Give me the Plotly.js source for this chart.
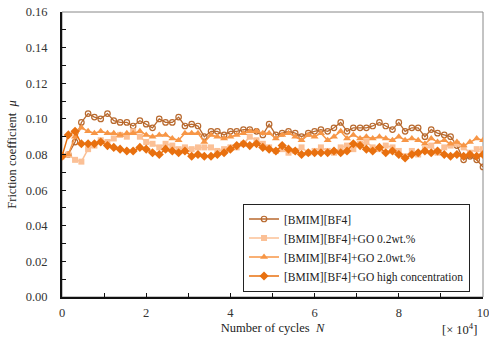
<!DOCTYPE html>
<html><head><meta charset="utf-8">
<script src="https://cdn.plot.ly/plotly-3.0.1.min.js"></script>
<style>html,body{margin:0;padding:0;background:#fff;}#chart{width:489px;height:345px;}</style>
</head><body><div id="chart"></div>
<script>
const cycles = [0,0.15,0.31,0.46,0.62,0.77,0.92,1.08,1.23,1.38,1.54,1.69,1.85,2.00,2.15,2.31,2.46,2.62,2.77,2.92,3.08,3.23,3.38,3.54,3.69,3.85,4.00,4.15,4.31,4.46,4.62,4.77,4.92,5.08,5.23,5.38,5.54,5.69,5.85,6.00,6.15,6.31,6.46,6.62,6.77,6.92,7.08,7.23,7.38,7.54,7.69,7.85,8.00,8.15,8.31,8.46,8.62,8.77,8.92,9.08,9.23,9.38,9.54,9.69,9.85,10.00];
const seriesNames = ["[BMIM][BF4]","[BMIM][BF4]+GO 0.2wt.%","[BMIM][BF4]+GO 2.0wt.%","[BMIM][BF4]+GO high concentration"];
const muBase = [0.079,0.080,0.087,0.098,0.103,0.101,0.100,0.103,0.099,0.098,0.098,0.096,0.099,0.097,0.095,0.100,0.098,0.098,0.101,0.096,0.097,0.096,0.090,0.093,0.093,0.091,0.093,0.093,0.094,0.094,0.093,0.091,0.097,0.091,0.092,0.093,0.092,0.090,0.092,0.093,0.094,0.093,0.095,0.098,0.093,0.095,0.095,0.095,0.096,0.098,0.096,0.094,0.098,0.093,0.095,0.095,0.090,0.094,0.092,0.091,0.090,0.085,0.077,0.079,0.077,0.073];
const muGO02 = [0.079,0.080,0.077,0.076,0.083,0.085,0.088,0.087,0.089,0.091,0.090,0.093,0.090,0.087,0.086,0.084,0.086,0.085,0.083,0.084,0.083,0.084,0.084,0.084,0.082,0.083,0.084,0.084,0.086,0.090,0.088,0.086,0.084,0.082,0.083,0.081,0.082,0.084,0.081,0.082,0.084,0.082,0.081,0.084,0.085,0.083,0.086,0.087,0.084,0.083,0.085,0.084,0.082,0.079,0.082,0.080,0.083,0.085,0.081,0.084,0.085,0.086,0.084,0.081,0.083,0.083];
const muGO20 = [0.079,0.080,0.090,0.095,0.093,0.092,0.093,0.092,0.092,0.091,0.092,0.092,0.093,0.091,0.090,0.091,0.091,0.089,0.088,0.092,0.092,0.092,0.087,0.091,0.090,0.089,0.090,0.091,0.092,0.093,0.093,0.092,0.092,0.089,0.091,0.092,0.090,0.088,0.091,0.090,0.092,0.088,0.090,0.093,0.089,0.091,0.089,0.090,0.089,0.090,0.089,0.088,0.090,0.088,0.089,0.088,0.086,0.089,0.087,0.088,0.086,0.087,0.085,0.087,0.089,0.088];
const muGOhigh = [0.079,0.091,0.093,0.086,0.086,0.086,0.087,0.085,0.084,0.083,0.082,0.082,0.084,0.083,0.081,0.080,0.083,0.082,0.081,0.082,0.079,0.080,0.079,0.079,0.080,0.081,0.083,0.085,0.086,0.085,0.086,0.084,0.083,0.082,0.085,0.083,0.082,0.080,0.081,0.081,0.081,0.081,0.082,0.081,0.082,0.086,0.085,0.083,0.082,0.084,0.081,0.082,0.080,0.078,0.080,0.081,0.082,0.081,0.082,0.080,0.079,0.080,0.079,0.080,0.079,0.080];
const xTicks = [0,2,4,6,8,10];
const yTicks = [0,0.02,0.04,0.06,0.08,0.10,0.12,0.14,0.16];

const font = "Liberation Serif, Times New Roman, serif";
const traces = [
  {x: cycles, y: muGO02, name: seriesNames[1], mode: "lines+markers",
   line: {color: "#fbc096", width: 1.5}, marker: {symbol: "square", size: 6, color: "#fbc096"}},
  {x: cycles, y: muGO20, name: seriesNames[2], mode: "lines+markers",
   line: {color: "#f79646", width: 1.5}, marker: {symbol: "triangle-up", size: 7, color: "#f79646"}},
  {x: cycles, y: muGOhigh, name: seriesNames[3], mode: "lines+markers",
   line: {color: "#e8700f", width: 1.5}, marker: {symbol: "diamond", size: 7, color: "#e8700f"}},
  {x: cycles, y: muBase, name: seriesNames[0], mode: "lines+markers",
   line: {color: "#b8692e", width: 1.3}, marker: {symbol: "circle-open", size: 5.5, color: "#b8692e", line:{width:1.2}}}
];
const order = [3,0,1,2];
const data = order.map((k,i)=>Object.assign({}, traces[k], {legendrank: i+1}));

const layout = {
  width: 489, height: 345,
  margin: {l: 62, r: 6, t: 12, b: 48},
  paper_bgcolor: "#fff", plot_bgcolor: "#fff",
  font: {family: font, size: 11, color: "#222"},
  showlegend: true,
  legend: {x: 0.43, y: 0.328, xanchor: "left", yanchor: "top",
    bgcolor: "#fff", bordercolor: "#222", borderwidth: 1, itemwidth: 30,
    font: {family: font, size: 11.5, color: "#222"}, traceorder: "normal", tracegroupgap: 0},
  xaxis: {range: [0, 10], tickvals: xTicks, ticktext: xTicks.map(String),
    showgrid: false, zeroline: false, showline: true, linecolor: "#111", linewidth: 2,
    ticks: "inside", ticklen: 4, tickcolor: "#111", tickwidth: 1, ticklabeloverflow: "allow",
    minor: {dtick: 1, ticks: "inside", ticklen: 4, tickcolor: "#111", showgrid: false},
    tickfont: {family: font, size: 12.5, color: "#333"}, ticklabelstandoff: 3,
    title: {text: "Number of cycles  <i>N</i>", font: {family: font, size: 12.5, color: "#222"}, standoff: 4}},
  yaxis: {range: [0, 0.16], tickvals: yTicks, ticktext: yTicks.map(v=>v.toFixed(2)),
    showgrid: false, zeroline: false, showline: true, linecolor: "#111", linewidth: 2,
    ticks: "inside", ticklen: 4, tickcolor: "#111", tickwidth: 1,
    minor: {dtick: 0.01, ticks: "inside", ticklen: 4, tickcolor: "#111", showgrid: false},
    tickfont: {family: font, size: 12.5, color: "#333"}, ticklabelstandoff: 10,
    title: {text: "Friction coefficient  <i>μ</i>", font: {family: font, size: 12.5, color: "#222"}, standoff: 6}},
  shapes: [{type: "rect", xref: "paper", yref: "paper", x0: 0, x1: 1, y0: 0, y1: 1,
    line: {color: "#888", width: 1}, layer: "below"}],
  annotations: [{text: "[× 10<sup>4</sup>]", xref: "paper", yref: "paper", x: 0.945, y: -0.112,
    xanchor: "center", yanchor: "middle", showarrow: false, font: {family: font, size: 12.5, color: "#222"}}]
};
Plotly.newPlot("chart", data, layout, {displayModeBar: false, staticPlot: true});
</script></body></html>
